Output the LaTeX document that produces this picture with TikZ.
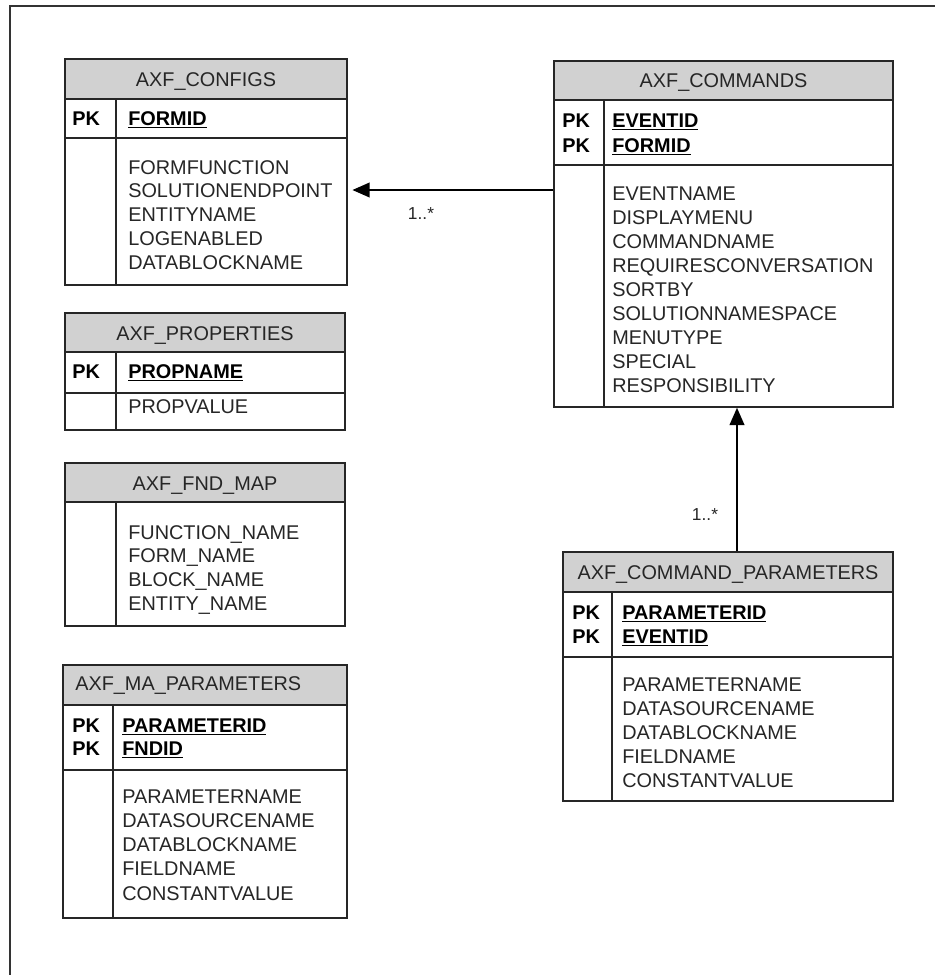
\documentclass[tikz,border=0pt]{standalone}
\usepackage{fontspec}
\setmainfont{Liberation Sans}
\usetikzlibrary{arrows.meta,fit}
\tikzset{
  x=0.75pt, y=-0.75pt,
  frameline/.style={draw=black!80, line width=1.1pt},
  hdrfill/.style={fill=gray!36},
  tblbox/.style={draw=black!85, line width=1.1pt, inner sep=0pt},
  sepline/.style={draw=black!85, line width=1.1pt},
  fld/.style={anchor=base west, inner sep=0pt, font=\fontsize{14.9}{17}\selectfont, text=black!85},
  keyfld/.style={fld, font=\fontsize{14.9}{17}\selectfont\bfseries, text=black},
  ttl/.style={anchor=base, inner sep=0pt, font=\fontsize{14.9}{17}\selectfont, text=black!85},
  mult/.style={inner sep=0pt, font=\fontsize{13}{15}\selectfont, text=black!85},
  conn/.style={draw=black, line width=1.5pt, -{Triangle[length=13pt,width=11pt]}}
}
% #1 name, #2 x1, #3 y1, #4 x2, #5 y2, #6 header bottom, #7 pk bottom, #8 divider x
\newcommand\erbox[8]{%
  \path[hdrfill] (#2,#3) rectangle (#4,#6);
  \draw[sepline] (#2,#6) -- (#4,#6);
  \draw[sepline] (#2,#7) -- (#4,#7);
  \draw[sepline] (#8,#6) -- (#8,#5);
  \node[tblbox, fit={(#2,#3) (#4,#5)}] (#1) {};
}
% #1 prefix, #2 x, #3 first baseline, #4 step, #5 list
\newcommand\fieldlist[5]{%
  \foreach \t [count=\i] in {#5} {\node[fld] (#1-\i) at ({#2},{#3+(\i-1)*#4}) {\t};}
}
\newcommand\keylist[5]{%
  \foreach \t [count=\i] in {#5} {%
    \node[keyfld] (#1-pk\i) at ({#2},{#3+(\i-1)*#4}) {PK};
  }
}
\begin{document}
\begin{tikzpicture}
\useasboundingbox (0,0) rectangle (935,975);
% frame
\coordinate (fa) at (10,975);
\coordinate (fb) at (10,6);
\coordinate (fc) at (935,6);
\draw[frameline] (fa) -- (fb) -- (fc);

% AXF_CONFIGS
\erbox{configs}{65}{59}{347}{285}{99}{138}{116}
\node[ttl] (configs-t) at (206,86) {AXF\_CONFIGS};
\node[keyfld] (configs-pk) at (72,125) {PK};
\node[keyfld] (configs-k1) at (128,125) {\underline{FORMID}};
\fieldlist{configs-f}{128}{174}{23.75}{FORMFUNCTION,SOLUTIONENDPOINT,ENTITYNAME,LOGENABLED,DATABLOCKNAME}

% AXF_PROPERTIES
\erbox{props}{65}{313}{345}{430}{352}{393}{116}
\node[ttl] (props-t) at (205,340) {AXF\_PROPERTIES};
\node[keyfld] (props-pk) at (72,378) {PK};
\node[keyfld] (props-k1) at (128,378) {\underline{PROPNAME}};
\node[fld] (props-f1) at (128,413.5) {PROPVALUE};

% AXF_FND_MAP
\erbox{fnd}{65}{463}{345}{626}{502}{502}{116}
\node[ttl] (fnd-t) at (205,490) {AXF\_FND\_MAP};
\fieldlist{fnd-f}{128}{539}{23.7}{FUNCTION\_NAME,FORM\_NAME,BLOCK\_NAME,ENTITY\_NAME}

% AXF_MA_PARAMETERS
\erbox{ma}{63}{665}{347}{918}{705}{770}{113}
\node[ttl, anchor=base west] (ma-t) at (75,690) {AXF\_MA\_PARAMETERS};
\keylist{ma}{72}{732}{23}{1,2}
\node[keyfld] (ma-k1) at (122,732) {\underline{PARAMETERID}};
\node[keyfld] (ma-k2) at (122,755) {\underline{FNDID}};
\fieldlist{ma-f}{122}{803}{24.25}{PARAMETERNAME,DATASOURCENAME,DATABLOCKNAME,FIELDNAME,CONSTANTVALUE}

% AXF_COMMANDS
\erbox{commands}{554}{61}{893}{407}{100}{165}{604}
\node[ttl] (commands-t) at (723.5,87) {AXF\_COMMANDS};
\keylist{commands}{562}{127}{25}{1,2}
\node[keyfld] (commands-k1) at (612,127) {\underline{EVENTID}};
\node[keyfld] (commands-k2) at (612,152) {\underline{FORMID}};
\fieldlist{commands-f}{612}{200}{24.1}{EVENTNAME,DISPLAYMENU,COMMANDNAME,REQUIRESCONVERSATION,SORTBY,SOLUTIONNAMESPACE,MENUTYPE,SPECIAL,RESPONSIBILITY}

% AXF_COMMAND_PARAMETERS
\erbox{cmdparams}{563}{552}{893}{801}{592}{657}{612}
\node[ttl] (cmdparams-t) at (728,579) {AXF\_COMMAND\_PARAMETERS};
\keylist{cmdparams}{572}{619}{24}{1,2}
\node[keyfld] (cmdparams-k1) at (622,619) {\underline{PARAMETERID}};
\node[keyfld] (cmdparams-k2) at (622,643) {\underline{EVENTID}};
\fieldlist{cmdparams-f}{622}{691}{24}{PARAMETERNAME,DATASOURCENAME,DATABLOCKNAME,FIELDNAME,CONSTANTVALUE}

% connectors
\coordinate (r1) at (0,190);
\coordinate (r2) at (737,0);
\draw[conn, shorten >=3.5pt] (commands.west |- r1) -- (configs.east |- r1);
\draw[conn] (cmdparams.north -| r2) -- (commands.south -| r2);
\node[mult] (m1) at (421,214) {1..*};
\node[mult] (m2) at (705,515) {1..*};
\end{tikzpicture}
\end{document}
